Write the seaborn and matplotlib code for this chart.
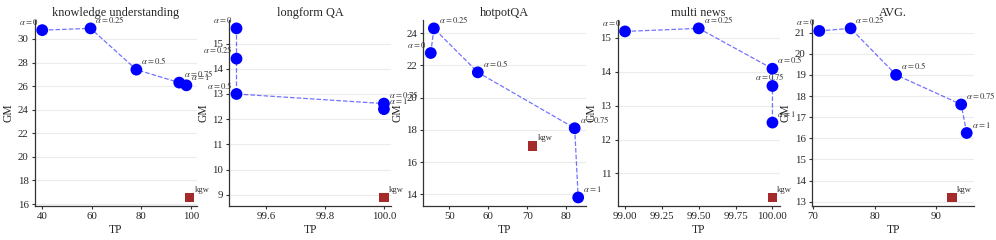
import matplotlib
matplotlib.use("Agg")
import matplotlib.pyplot as plt
from matplotlib.ticker import MultipleLocator
import seaborn as sns
import pandas as pd

# --- data ---
titles = ["knowledge understanding", "longform QA", "hotpotQA", "multi news", "AVG."]
alphas = ["0", "0.25", "0.5", "0.75", "1"]

tp_values = [
    [40.0, 59.5, 78.0, 95.3, 98.2],
    [99.5, 99.5, 99.5, 100.0, 100.0],
    [45.2, 46.0, 57.3, 82.2, 83.1],
    [99.0, 99.5, 100.0, 100.0, 100.0],
    [71.0, 76.1, 83.5, 94.1, 95.0],
]
gm_values = [
    [30.75, 30.9, 27.4, 26.3, 26.07],
    [15.6, 14.4, 13.0, 12.62, 12.4],
    [22.77, 24.3, 21.57, 18.1, 13.8],
    [15.19, 15.28, 14.09, 13.58, 12.5],
    [21.08, 21.2, 19.0, 17.6, 16.25],
]
kgw_tp = [99.5, 100.0, 71.4, 100.0, 92.6]
kgw_gm = [16.56, 8.9, 17.0, 10.29, 13.2]

# tick spacing per panel
x_steps = [20, 0.2, 10, 0.25, 10]
y_steps = [2, 1, 2, 1, 1]

# which side each alpha label sits on (L = left of point, C = centred, R = right)
label_side = [
    ["L", "R", "R", "R", "R"],
    ["L", "L", "L", "R", "R"],
    ["L", "R", "R", "R", "R"],
    ["L", "R", "R", "C", "R"],
    ["L", "R", "R", "R", "R"],
]

sns.set_theme(style="ticks")
plt.rcParams["font.family"] = ["Liberation Serif", "DejaVu Serif"]
plt.rcParams["mathtext.fontset"] = "stix"

fig, axes = plt.subplots(1, 5, figsize=(9.96, 2.4), dpi=100)
fig.subplots_adjust(left=0.035, right=0.978, bottom=0.142, top=0.917, wspace=0.198)

for i, ax in enumerate(axes):
    df = pd.DataFrame({"TP": tp_values[i], "GM": gm_values[i], "alpha": alphas})

    sns.lineplot(data=df, x="TP", y="GM", ax=ax, sort=False, estimator=None,
                 color="blue", linestyle="--", linewidth=0.9, alpha=0.55, zorder=2)
    sns.scatterplot(data=df, x="TP", y="GM", ax=ax, color="blue", s=72,
                    edgecolor="none", zorder=3)
    sns.scatterplot(x=[kgw_tp[i]], y=[kgw_gm[i]], ax=ax, color="#a52a2a",
                    marker="s", s=48, edgecolor="none", zorder=3)

    for j, row in df.iterrows():
        side = label_side[i][j]
        if side == "L":
            off, ha = (-3, 2.5), "right"
        elif side == "C":
            off, ha = (-2, 3), "center"
        else:
            off, ha = (3.5, 2.5), "left"
        ax.annotate(rf"$\alpha={row['alpha']}$", (row["TP"], row["GM"]),
                    xytext=off, textcoords="offset points", ha=ha, va="bottom",
                    fontsize=6.2, color="#333333", zorder=4)
    ax.annotate("kgw", (kgw_tp[i], kgw_gm[i]), xytext=(3.5, 2.5),
                textcoords="offset points", ha="left", va="bottom",
                fontsize=6.2, color="#333333", zorder=4)

    ax.xaxis.set_major_locator(MultipleLocator(x_steps[i]))
    ax.yaxis.set_major_locator(MultipleLocator(y_steps[i]))

    ax.set_title(titles[i], fontsize=8.8, pad=3)
    ax.set_xlabel("TP", fontsize=8.3, labelpad=2)
    ax.set_ylabel("GM", fontsize=8.3, labelpad=2)
    ax.tick_params(labelsize=7.8, length=2.5, width=0.8, pad=2, color="#333333")
    ax.grid(axis="y", color="#ececec", linewidth=0.8)
    ax.grid(axis="x", visible=False)
    for side in ["left", "bottom"]:
        ax.spines[side].set_color("#333333")
        ax.spines[side].set_linewidth(0.9)
    sns.despine(ax=ax)

axes[3].xaxis.set_major_formatter("{x:.2f}")
axes[1].xaxis.set_major_formatter("{x:.1f}")

plt.savefig("out.png", dpi=100)
plt.close()
